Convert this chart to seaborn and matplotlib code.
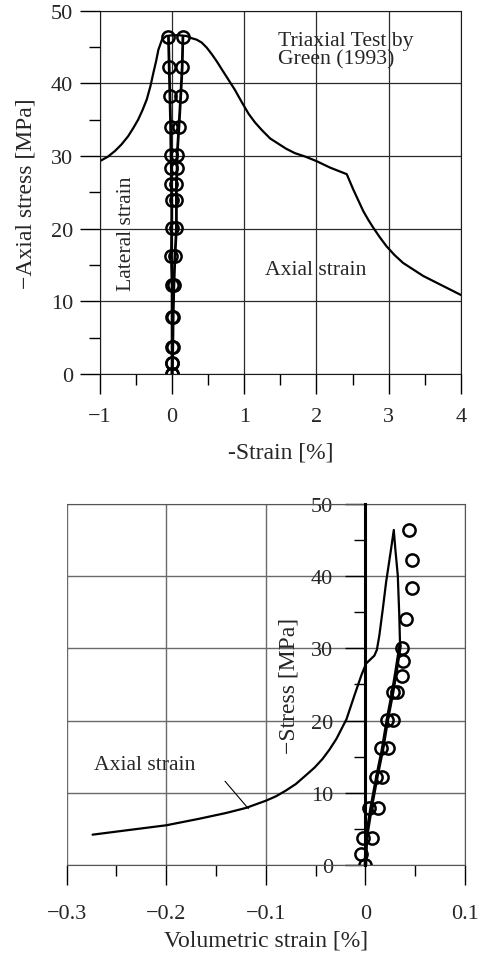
import matplotlib
matplotlib.use("Agg")
import matplotlib.pyplot as plt
import seaborn as sns
from matplotlib.ticker import MultipleLocator

# ================= DATA =================
# measured stress levels (MPa), shared by the circle series
stress_levels = [0, 1.5, 3.8, 7.9, 12.2, 16.2, 20.1, 24.0, 26.2, 28.3, 30.1, 34.0, 38.3, 42.2, 46.4]

# top panel: measured strains (%)
lateral_meas = [0.0, 0.0, 0.0, 0.0, 0.0, -0.01, -0.005, -0.005, -0.01, -0.01, -0.015, -0.02, -0.03, -0.04, -0.05]
axial_meas = [0.0, 0.005, 0.01, 0.015, 0.025, 0.04, 0.06, 0.06, 0.06, 0.07, 0.07, 0.095, 0.12, 0.14, 0.15]

# top panel: computed curve
curve_x = [-1.0, -0.89, -0.79, -0.70, -0.61, -0.54, -0.47, -0.41, -0.35, -0.30, -0.26, -0.22,
           -0.19, -0.14, -0.08, 0.0, 0.1, 0.2, 0.27, 0.34, 0.41, 0.48, 0.55, 0.62, 0.69, 0.78,
           0.87, 0.96, 1.06, 1.15, 1.24, 1.36, 1.47, 1.58, 1.70, 1.85, 2.0, 2.19, 2.42,
           2.51, 2.58, 2.65, 2.72, 2.79, 2.88, 2.97, 3.08, 3.20, 3.34, 3.48, 3.62, 3.76, 3.88, 4.0]
curve_y = [29.3, 29.9, 30.7, 31.6, 32.7, 33.8, 35.0, 36.3, 37.8, 39.6, 41.4, 43.1,
           44.6, 46.0, 46.5, 46.6, 46.6, 46.5, 46.2, 46.0, 45.6, 44.9, 44.0, 43.0, 41.9, 40.5,
           39.1, 37.5, 35.8, 34.6, 33.6, 32.4, 31.7, 31.0, 30.4, 29.9, 29.3, 28.4, 27.5,
           25.4, 23.9, 22.4, 21.2, 20.1, 18.8, 17.6, 16.4, 15.3, 14.4, 13.5, 12.8, 12.1, 11.5, 10.9]

# bottom panel: measured volumetric strain (%)
vol_meas_a = [0.0, -0.0044, -0.002, 0.004, 0.0107, 0.0157, 0.0214, 0.0274, 0.0365, 0.038, 0.0365,
              0.0405, 0.0472, 0.0465, 0.0438]
vol_levels_b = [3.8, 7.9, 12.2, 16.2, 20.1, 24.0]
vol_meas_b = [0.0064, 0.0124, 0.0164, 0.023, 0.0274, 0.0315]

# bottom panel: thick loading line
vol_line_x = [0.0, 0.001, 0.0057, 0.0115, 0.0174, 0.022, 0.0274, 0.031, 0.0348]
vol_line_y = [0.0, 3.8, 7.9, 12.2, 16.2, 20.1, 24.0, 27.0, 30.4]

# bottom panel: computed volumetric curve
vol_curve_x = [-0.274, -0.240, -0.200, -0.167, -0.140, -0.120, -0.100, -0.090, -0.080, -0.070,
               -0.060, -0.051, -0.043, -0.036, -0.029, -0.019, -0.011, -0.004, 0.0007, 0.009,
               0.0115, 0.014, 0.0175, 0.0208, 0.0258, 0.0285, 0.030, 0.0325, 0.034, 0.0348]
vol_curve_y = [4.2, 4.8, 5.5, 6.4, 7.2, 7.9, 8.9, 9.5, 10.3, 11.2,
               12.4, 13.5, 14.7, 16.0, 17.5, 20.2, 23.5, 26.3, 27.9, 29.0,
               29.8, 31.8, 35.5, 39.2, 43.8, 46.4, 43.8, 40.1, 34.6, 30.4]
# =========================================

sns.set_style("ticks")
plt.rcParams["font.family"] = ["Liberation Serif", "DejaVu Serif"]
plt.rcParams["axes.unicode_minus"] = True

FS_TICK = 16
FS_LABEL = 17
FS_NOTE = 15.6

fig = plt.figure(figsize=(4.78, 9.62), dpi=100)
ax1 = fig.add_axes([0.209, 0.610, 0.755, 0.378])
ax2 = fig.add_axes([0.1395, 0.0998, 0.8333, 0.3753])

circ = dict(marker="o", markersize=8.8, markerfacecolor="none",
            markeredgecolor="black", markeredgewidth=1.8)

# ---------- top panel ----------
sns.lineplot(x=curve_x, y=curve_y, sort=False, estimator=None, color="black", lw=1.6, ax=ax1)
sns.lineplot(x=lateral_meas, y=stress_levels, sort=False, estimator=None, color="black",
             lw=2.0, ax=ax1, **circ)
sns.lineplot(x=axial_meas, y=stress_levels, sort=False, estimator=None, color="black",
             lw=2.0, ax=ax1, **circ)

ax1.set_xlim(-1, 4)
ax1.set_ylim(0, 50)
ax1.xaxis.set_major_locator(MultipleLocator(1))
ax1.xaxis.set_minor_locator(MultipleLocator(0.5))
ax1.yaxis.set_major_locator(MultipleLocator(10))
ax1.yaxis.set_minor_locator(MultipleLocator(5))
ax1.grid(True, which="major", color="#2a2a2a", lw=0.9)
ax1.text(1.47, 44.6, "Triaxial Test by\nGreen (1993)", fontsize=FS_NOTE, va="center", ha="left",
         linespacing=0.95)
ax1.text(1.29, 14.4, "Axial strain", fontsize=FS_NOTE, va="center", ha="left")
ax1.text(-0.63, 19.5, "Lateral strain", fontsize=FS_NOTE, va="center", ha="center", rotation=90)
ax1.set_xlabel("-Strain [%]", fontsize=FS_LABEL)
ax1.set_ylabel("\u2212Axial stress [MPa]", fontsize=FS_LABEL)
ax1.xaxis.set_label_coords(0.5, -0.185)
ax1.yaxis.set_label_coords(-0.177, 0.5)

# ---------- bottom panel ----------
sns.lineplot(x=vol_curve_x, y=vol_curve_y, sort=False, estimator=None, color="black", lw=1.6, ax=ax2)
sns.lineplot(x=vol_line_x, y=vol_line_y, sort=False, estimator=None, color="black", lw=2.6, ax=ax2)
sns.lineplot(x=vol_meas_a, y=stress_levels, sort=False, estimator=None, color="black",
             ls="none", ax=ax2, **circ)
sns.lineplot(x=vol_meas_b, y=vol_levels_b, sort=False, estimator=None, color="black",
             ls="none", ax=ax2, **circ)

ax2.set_xlim(-0.3, 0.1)
ax2.set_ylim(0, 50)
ax2.set_xticks([-0.3, -0.2, -0.1, 0.0, 0.1])
ax2.set_xticklabels(["\u22120.3", "\u22120.2", "\u22120.1", "0", "0.1"])
ax2.xaxis.set_minor_locator(MultipleLocator(0.05))
ax2.yaxis.set_major_locator(MultipleLocator(10))
ax2.yaxis.set_minor_locator(MultipleLocator(5))
ax2.grid(True, which="major", color="#6a6a6a", lw=1.0)
ax2.spines["left"].set_position(("data", 0))
ax2.text(-0.273, 13.9, "Axial strain", fontsize=FS_NOTE, va="center", ha="left")
ax2.plot([-0.141, -0.1175], [11.6, 7.8], color="black", lw=0.8)
ax2.set_xlabel("Volumetric strain [%]", fontsize=FS_LABEL)
ax2.set_ylabel("\u2212Stress [MPa]", fontsize=FS_LABEL)
ax2.xaxis.set_label_coords(0.5, -0.18)
ax2.yaxis.set_label_coords(0.585, 0.5)

for ax in (ax1, ax2):
    for s in ax.spines.values():
        s.set_visible(True)
    ax.tick_params(which="major", direction="out", length=14.4, width=1.0, color="black",
                   labelsize=FS_TICK)
    ax.tick_params(which="minor", direction="out", length=7.8, width=1.0, color="black")
    ax.set_axisbelow(True)

ax1.tick_params(axis="x", which="major", pad=9)
ax1.tick_params(axis="y", which="major", pad=5)
for s in ax1.spines.values():
    s.set_color("#1a1a1a")
for s in ("top", "right", "bottom"):
    ax2.spines[s].set_color("#555555")
ax2.spines["left"].set_color("black")
ax2.spines["left"].set_linewidth(2.2)
ax2.spines["left"].set_zorder(3)
ax2.tick_params(axis="x", which="major", pad=14)
ax2.tick_params(axis="y", which="major", pad=9)

fig.savefig("out.png", dpi=100)
